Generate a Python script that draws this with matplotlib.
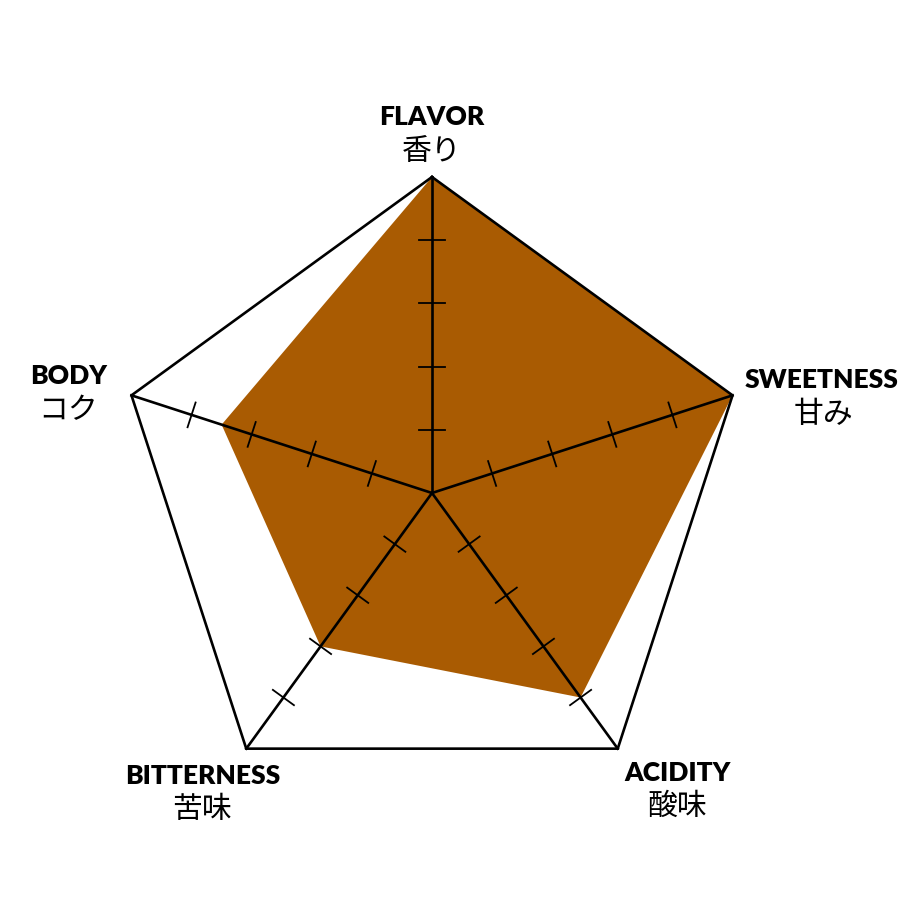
import numpy as np
import matplotlib
matplotlib.use("Agg")
import matplotlib.pyplot as plt

# radar data (scale 0-5)
labels_en = ["FLAVOR", "SWEETNESS", "ACIDITY", "BITTERNESS", "BODY"]
labels_ja = ["香り", "甘み", "酸味", "苦味", "コク"]
values = [5, 5, 4, 3, 3.5]
max_val = 5
tick_levels = [1, 2, 3, 4]

FILL = "#a95b02"
EN_FONT = ["Lato", "DejaVu Sans"]
JA_FONT = ["Noto Sans CJK JP", "DejaVu Sans"]

n = len(labels_en)
# start at top, go clockwise
angles = np.pi / 2 - np.arange(n) * 2 * np.pi / n
ux, uy = np.cos(angles), np.sin(angles)

fig = plt.figure(figsize=(9.2, 9.2), dpi=100)
ax = fig.add_axes([0, 0, 1, 1])
unit = 316 / max_val  # pixels per value unit
ax.set_xlim(-432 / unit, (920 - 432) / unit)
ax.set_ylim(-(920 - 494) / unit, 494 / unit)
ax.set_aspect("equal")
ax.axis("off")

# filled data polygon
vals = np.array(values, dtype=float)
ax.fill(vals * ux, vals * uy, color=FILL, lw=0, zorder=1)

# outer frame
fx = np.append(max_val * ux, max_val * ux[0])
fy = np.append(max_val * uy, max_val * uy[0])
ax.plot(fx, fy, color="black", lw=1.9, zorder=3, solid_joinstyle="miter")

# spokes + tick marks
half = 13 / unit
for i in range(n):
    ax.plot([0, max_val * ux[i]], [0, max_val * uy[i]], color="black", lw=1.9, zorder=3)
    px, py = -uy[i], ux[i]
    for t in tick_levels:
        cx, cy = t * ux[i], t * uy[i]
        ax.plot([cx - half * px, cx + half * px], [cy - half * py, cy + half * py],
                color="black", lw=1.3, zorder=3)

# labels: offsets in pixels from each vertex (english, japanese)
offsets = [
    ((0, 61), (0, 26)),
    ((89, 16), (91, -18)),
    ((60, -23), (60, -57)),
    ((-44, -26), (-44, -60)),
    ((-63, 20), (-63, -14)),
]
for i in range(n):
    vx, vy = max_val * ux[i], max_val * uy[i]
    (ex, ey), (jx, jy) = offsets[i]
    ax.text(vx + ex / unit, vy + ey / unit, labels_en[i], ha="center", va="center",
            fontsize=19, fontweight="heavy", family=EN_FONT)
    ax.text(vx + jx / unit, vy + jy / unit, labels_ja[i], ha="center", va="center",
            fontsize=21.5, family=JA_FONT)

fig.savefig("out.png", dpi=100)
